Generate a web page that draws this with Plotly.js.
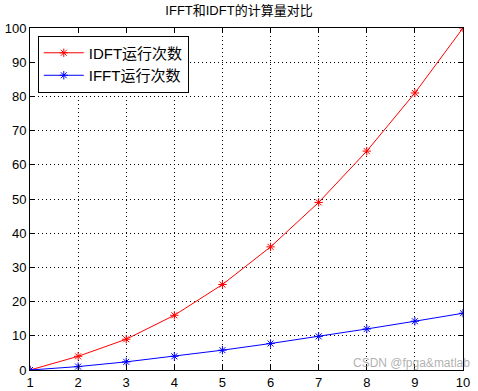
<!DOCTYPE html>
<html><head><meta charset="utf-8">
<script src="https://cdn.plot.ly/plotly-3.0.1.min.js"></script>
<style>body{margin:0;background:#fff}#c{width:478px;height:391px}</style>
</head><body><div id="c"></div>
<script>
const xValues = [1,2,3,4,5,6,7,8,9,10];
const idftOps = [0,4,9,16,25,36,49,64,81,100];
const ifftOps = [0,1,2.38,4,5.8,7.75,9.83,12,14.26,16.6];
const seriesNames = ['IDFT运行次数','IFFT运行次数'];
const titleText = 'IFFT和IDFT的计算量对比';
const watermark = 'CSDN @fpga&matlab';

const font = {family:'"Liberation Sans","Noto Sans CJK SC",sans-serif', size:13, color:'#000'};
const mk = (y,name,color)=>({x:xValues,y:y,name:name,type:'scatter',mode:'lines+markers',
  line:{color:color,width:1},marker:{symbol:'asterisk-open',size:7,color:color,line:{color:color,width:1}}});
const axisBase = {showline:true,linecolor:'#000',linewidth:1,mirror:'ticks',ticks:'inside',ticklen:5,
  tickcolor:'#000',showgrid:true,gridcolor:'#000',griddash:'1px,3px',gridwidth:1,zeroline:false,
  tickfont:font};
Plotly.newPlot('c',[mk(idftOps,seriesNames[0],'#ff0000'),mk(ifftOps,seriesNames[1],'#0000ff')],{
  width:478,height:391,margin:{l:30,r:15,t:28,b:21},
  paper_bgcolor:'#fff',plot_bgcolor:'#fff',font:font,
  title:{text:titleText,font:{family:font.family,size:13,color:'#000'},x:0.5,xanchor:'center',y:0.985,yanchor:'top'},
  xaxis:Object.assign({},axisBase,{range:[1,10],tickvals:xValues,ticktext:xValues.map(String)}),
  yaxis:Object.assign({},axisBase,{range:[0,100],dtick:10}),
  showlegend:true,
  legend:{x:0.018,y:0.978,xanchor:'left',yanchor:'top',bgcolor:'#fff',bordercolor:'#000',borderwidth:1,
    font:{family:font.family,size:15,color:'#000'},tracegroupgap:0,itemwidth:40},
  annotations:[{text:watermark,xref:'paper',yref:'paper',x:1.02,y:-0.005,xanchor:'right',yanchor:'bottom',
    showarrow:false,font:{family:font.family,size:12,color:'rgba(150,150,150,0.75)'}}]
},{displayModeBar:false,staticPlot:true});
</script></body></html>
